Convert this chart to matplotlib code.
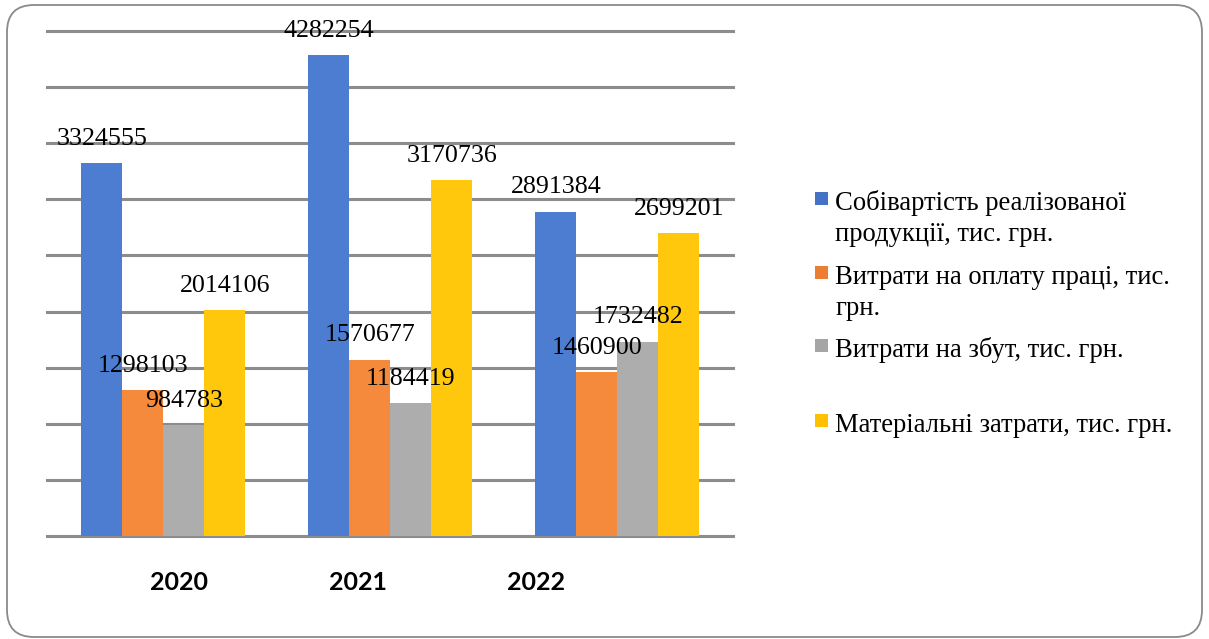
import numpy as np
import matplotlib.pyplot as plt
from matplotlib.patches import FancyBboxPatch, Rectangle

years = ['2020', '2021', '2022']
series_names = [
    ['Собівартість реалізованої', 'продукції, тис. грн.'],
    ['Витрати на оплату праці, тис.', 'грн.'],
    ['Витрати на збут, тис. грн.'],
    ['Матеріальні затрати, тис. грн.'],
]
cost_of_sales = [3324555, 4282254, 2891384]
labour_costs = [1298103, 1570677, 1460900]
selling_costs = [984783, 1184419, 1732482]
material_costs = [2014106, 3170736, 2699201]

bar_colors = ['#4d7dd0', '#f68a3c', '#adadad', '#ffc80c']
legend_colors = ['#4472c4', '#ed7d31', '#a5a5a5', '#ffc000']

W, H = 1209, 639
fig = plt.figure(figsize=(W / 100, H / 100), dpi=100)

# rounded frame around the whole chart
frame = FancyBboxPatch((0.07, 0.02), 11.95, 6.32,
                       boxstyle='round,pad=0,rounding_size=0.27',
                       transform=fig.dpi_scale_trans, facecolor='white',
                       edgecolor='#8a8a8a', linewidth=1.3, zorder=-1)
fig.patches.append(frame)

ax = fig.add_axes([47 / W, 1 - 536 / H, (733 - 47) / W, (536 - 31) / H])
ax.patch.set_alpha(0)

x = np.arange(len(years))
width = 41 / 227
all_series = [cost_of_sales, labour_costs, selling_costs, material_costs]
for i, (vals, col) in enumerate(zip(all_series, bar_colors)):
    pos = x + (i - 1.5) * width
    bars = ax.bar(pos, vals, width, color=col, zorder=2)
    for b, v in zip(bars, vals):
        ax.annotate(str(v), (b.get_x() + b.get_width() / 2, v),
                    xytext=(0, 17.5), textcoords='offset points',
                    ha='center', va='center', fontsize=18.7,
                    family='Liberation Serif', color='black', zorder=4)

ax.set_ylim(0, 4500000)
ax.set_xlim(-0.513, 2.509)
ax.set_yticks(np.arange(0, 4500001, 500000))
ax.yaxis.grid(True, color='#8c8c8c', linewidth=2.2, zorder=1)
for gl in ax.yaxis.get_gridlines():
    gl.set_clip_on(False)
ax.set_axisbelow(True)
ax.tick_params(axis='y', length=0, labelleft=False)
for s in ax.spines.values():
    s.set_visible(False)

# year labels sit a little left of the bar groups
ax.set_xticks([0.068, 0.855, 1.640])
ax.set_xticklabels(years, fontsize=18, fontweight='bold', family='Lato')
ax.tick_params(axis='x', length=0, pad=25)

# legend drawn by hand so the entries keep their spacing
legend_baselines = [210, 284, 357, 432]
line_step = 31
for lines, col, yb in zip(series_names, legend_colors, legend_baselines):
    yc = yb - 11.5
    fig.patches.append(Rectangle((815 / W, 1 - (yc + 6.5) / H), 13 / W, 13 / H,
                                 transform=fig.transFigure, facecolor=col,
                                 edgecolor='none'))
    for k, line in enumerate(lines):
        fig.text(835 / W, 1 - (yb + k * line_step) / H, line, ha='left',
                 va='baseline', fontsize=19.2, family='Liberation Serif')

fig.savefig('out.png', dpi=100)
